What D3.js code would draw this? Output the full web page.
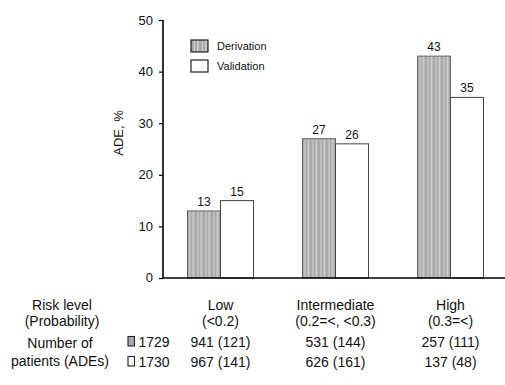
<!DOCTYPE html>
<html><head><meta charset="utf-8">
<script src="https://cdn.jsdelivr.net/npm/d3@7"></script>
<style>body{margin:0;background:#fff}svg{display:block;font-family:"Liberation Sans",Arial,sans-serif}</style>
</head><body><div id="c"></div>
<script>
const categories = ["Low", "Intermediate", "High"];
const categoryRanges = ["(<0.2)", "(0.2=<, <0.3)", "(0.3=<)"];
const seriesNames = ["Derivation", "Validation"];
const derivation = [13, 27, 43];
const validation = [15, 26, 35];
const seriesTotals = ["1729", "1730"];
const derivationCounts = ["941 (121)", "531 (144)", "257 (111)"];
const validationCounts = ["967 (141)", "626 (161)", "137 (48)"];
const yTicks = [0, 10, 20, 30, 40, 50];

const W = 505, H = 385;
const svg = d3.select("#c").append("svg").attr("width", W).attr("height", H);
const defs = svg.append("defs");
const pat = defs.append("pattern").attr("id", "stripe").attr("patternUnits", "userSpaceOnUse")
  .attr("width", 8).attr("height", 4);
pat.append("rect").attr("width", 8).attr("height", 4).attr("fill", "#a8a8a8");
pat.append("rect").attr("x", 2).attr("width", 1).attr("height", 4).attr("fill", "#d4d4d4");
pat.append("rect").attr("x", 5).attr("width", 2).attr("height", 4).attr("fill", "#c6c6c6");
pat.append("rect").attr("x", 5).attr("y", 1).attr("width", 1).attr("height", 1).attr("fill", "#e2e2e2");

const x0 = 163, yTop = 20, yBase = 278;
const x = d3.scaleBand().domain(categories).range([x0, 508]).paddingInner(0.426).paddingOuter(0.213);
const xs = d3.scaleBand().domain(seriesNames).range([0, x.bandwidth()]);
const y = d3.scaleLinear().domain([0, 50]).range([yBase, yTop]);

// y axis
const yAxis = d3.axisLeft(y).tickValues(yTicks).tickSize(4).tickPadding(6).tickFormat(d3.format("d"));
const ga = svg.append("g").attr("transform", `translate(${x0},0)`).call(yAxis);
ga.select(".domain").attr("stroke", "#000").attr("stroke-width", 1.6).attr("d", `M0,${yTop}V${yBase}`);
ga.selectAll(".tick line").attr("stroke", "#000").attr("stroke-width", 1.2);
ga.selectAll(".tick text").attr("font-size", 13).attr("fill", "#111").attr("font-family", '"Liberation Sans",Arial,sans-serif');
ga.select(".tick text").attr("dy", "0.25em");

svg.append("text").attr("transform", `translate(123,133) rotate(-90)`).attr("text-anchor", "middle")
  .attr("font-size", 13).attr("fill", "#111").text("ADE, %");

// bars
const data = categories.map((c, i) => ({c, vals: [derivation[i], validation[i]]}));
const groups = svg.append("g").selectAll("g").data(data).join("g")
  .attr("transform", d => `translate(${x(d.c)},0)`);
groups.selectAll("rect").data(d => d.vals.map((v, j) => ({v, s: seriesNames[j]}))).join("rect")
  .attr("x", d => xs(d.s)).attr("width", xs.bandwidth())
  .attr("y", d => y(d.v)).attr("height", d => yBase - y(d.v))
  .attr("fill", d => d.s === "Derivation" ? "url(#stripe)" : "#fff")
  .attr("stroke", d => d.s === "Derivation" ? "#666" : "#444").attr("stroke-width", 1);
groups.selectAll("text").data(d => d.vals.map((v, j) => ({v, s: seriesNames[j]}))).join("text")
  .attr("x", d => xs(d.s) + xs.bandwidth() / 2).attr("y", d => y(d.v) - 5)
  .attr("text-anchor", "middle").attr("font-size", 12).attr("fill", "#111").text(d => d.v);

// x axis baseline
svg.append("line").attr("x1", x0).attr("x2", 505).attr("y1", yBase).attr("y2", yBase)
  .attr("stroke", "#000").attr("stroke-width", 1.6);

// legend
const lg = svg.append("g");
seriesNames.forEach((s, i) => {
  lg.append("rect").attr("x", 191).attr("y", 40 + i * 20).attr("width", 17).attr("height", 12)
    .attr("fill", i === 0 ? "url(#stripe)" : "#fff").attr("stroke", "#222").attr("stroke-width", 1.2);
  lg.append("text").attr("x", 217).attr("y", 50 + i * 20).attr("font-size", 11).attr("fill", "#111").text(s);
});

// table
const fs = 14;
const tb = svg.append("g").attr("font-size", fs).attr("fill", "#111").attr("text-anchor", "middle");
tb.append("text").attr("x", 62).attr("y", 310).text("Risk level");
tb.append("text").attr("x", 62).attr("y", 326).text("(Probability)");
tb.append("text").attr("x", 60).attr("y", 348).text("Number of");
tb.append("text").attr("x", 60).attr("y", 366).text("patients (ADEs)");
categories.forEach((c, i) => {
  const cx = x(c) + x.bandwidth() / 2;
  tb.append("text").attr("x", cx).attr("y", 310).text(c);
  tb.append("text").attr("x", cx).attr("y", 326).text(categoryRanges[i]);
  tb.append("text").attr("x", cx).attr("y", 347).text(derivationCounts[i]);
  tb.append("text").attr("x", cx).attr("y", 367).text(validationCounts[i]);
});
seriesTotals.forEach((t, i) => {
  const yy = i === 0 ? 347 : 367;
  svg.append("rect").attr("x", 128).attr("y", yy - 10.5).attr("width", 6.5).attr("height", 9.5)
    .attr("fill", i === 0 ? "#aaa" : "#fff").attr("stroke", "#222").attr("stroke-width", 1.1);
  svg.append("text").attr("x", 138.5).attr("y", yy).attr("font-size", fs).attr("fill", "#111").text(t);
});
</script></body></html>
